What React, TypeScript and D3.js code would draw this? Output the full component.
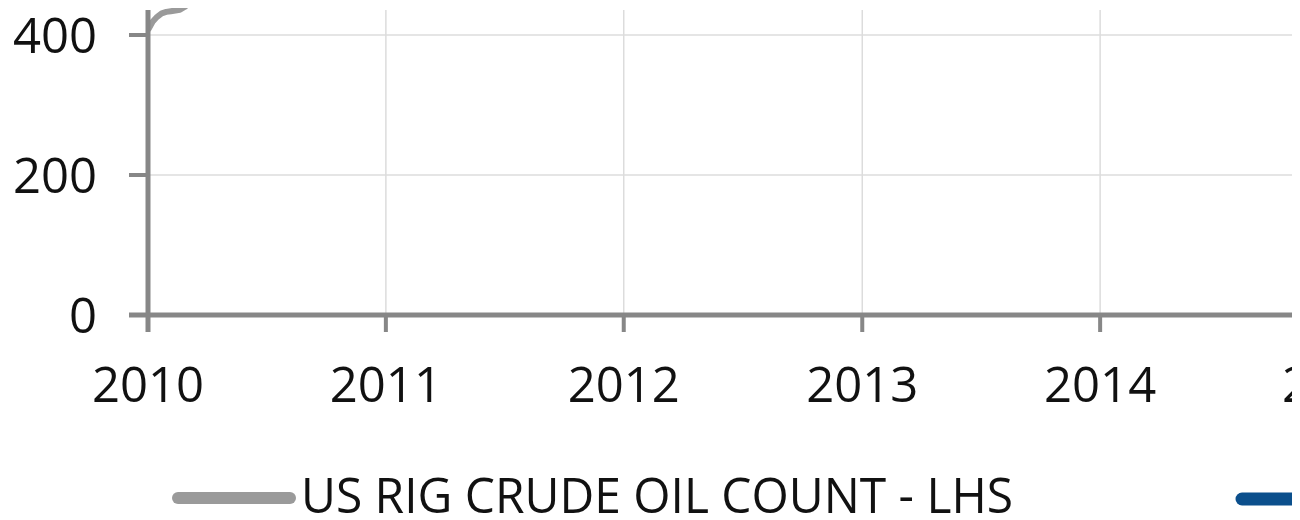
import React from "react";
import * as d3 from "d3";

const yearTicks = [2010, 2011, 2012, 2013, 2014, 2015];
const yTicks = [0, 200, 400];
const rigDates = [
  "2010-01-01", "2010-01-08", "2010-01-15", "2010-01-22", "2010-01-29",
  "2010-02-05", "2010-02-12", "2010-02-19", "2010-02-26", "2010-03-05",
  "2010-04-02", "2010-06-04", "2010-09-03", "2010-12-31",
];
const rigCounts = [407, 419, 426, 431, 433, 434, 435, 436, 440, 445, 470, 550, 640, 720];
const legendLabels = ["US RIG CRUDE OIL COUNT - LHS", "WTI - RHS"];

const W = 1300;
const H = 520;
const CLIP_RIGHT = 1292;
const AXIS = "#878787";
const GRID = "#dcdcdc";
const SERIES_GREY = "#9a9a9a";
const SERIES_BLUE = "#0b4f8c";
const FONT = "'Open Sans', 'Liberation Sans', sans-serif";

export default function App() {
  const x = d3
    .scaleTime()
    .domain([new Date(2010, 0, 1), new Date(2015, 0, 1)])
    .range([148, 1338]);
  const y = d3.scaleLinear().domain([0, 400]).range([315, 35]);
  const plotTop = 10;

  const pts = rigDates.map((d, i) => ({ date: d3.timeParse("%Y-%m-%d")(d) as Date, v: rigCounts[i] }));
  const line = d3
    .line<{ date: Date; v: number }>()
    .x((d) => x(d.date))
    .y((d) => y(d.v));

  return (
    <svg
      width={W}
      height={H}
      style={{ position: "absolute", left: 0, top: 0, background: "#fff" }}
      fontFamily={FONT}
    >
      <defs>
        <clipPath id="all">
          <rect x={0} y={0} width={CLIP_RIGHT} height={H} />
        </clipPath>
        <clipPath id="plot">
          <rect x={148} y={plotTop - 2} width={CLIP_RIGHT - 148} height={315 - plotTop + 2} />
        </clipPath>
      </defs>
      <g clipPath="url(#all)">
        {/* vertical gridlines */}
        {yearTicks.slice(1).map((yr) => (
          <line
            key={"vg" + yr}
            x1={x(new Date(yr, 0, 1))}
            x2={x(new Date(yr, 0, 1))}
            y1={plotTop}
            y2={315}
            stroke={GRID}
            strokeWidth={1.5}
          />
        ))}
        {/* horizontal gridlines */}
        {yTicks.slice(1).map((t) => (
          <line key={"hg" + t} x1={148} x2={CLIP_RIGHT} y1={y(t)} y2={y(t)} stroke={GRID} strokeWidth={1.5} />
        ))}
        {/* series */}
        <g clipPath="url(#plot)">
          <path d={line(pts) || ""} fill="none" stroke={SERIES_GREY} strokeWidth={6} strokeLinejoin="round" />
        </g>
        {/* x axis */}
        <line x1={129} x2={CLIP_RIGHT} y1={y(0)} y2={y(0)} stroke={AXIS} strokeWidth={5} />
        {yearTicks.map((yr) => (
          <line
            key={"xt" + yr}
            x1={x(new Date(yr, 0, 1))}
            x2={x(new Date(yr, 0, 1))}
            y1={y(0)}
            y2={332}
            stroke={AXIS}
            strokeWidth={4}
          />
        ))}
        {/* y axis */}
        <line x1={148} x2={148} y1={plotTop} y2={332} stroke={AXIS} strokeWidth={5} />
        {yTicks.map((t) => (
          <line key={"yt" + t} x1={129} x2={148} y1={y(t)} y2={y(t)} stroke={AXIS} strokeWidth={4} />
        ))}
        {/* y labels */}
        {yTicks.map((t) => (
          <text
            key={"yl" + t}
            x={97}
            y={y(t)}
            dy="0.36em"
            textAnchor="end"
            fontSize={49}
            fill="#111"
          >
            {t}
          </text>
        ))}
        {/* x labels */}
        {yearTicks.map((yr) => (
          <text
            key={"xl" + yr}
            x={x(new Date(yr, 0, 1))}
            y={402}
            textAnchor="middle"
            fontSize={49}
            fill="#111"
          >
            {yr}
          </text>
        ))}
        {/* legend */}
        <line x1={178} x2={290} y1={498} y2={498} stroke={SERIES_GREY} strokeWidth={12} strokeLinecap="round" />
        <text x={301} y={513} fontSize={50} fill="#111" textLength={712} lengthAdjust="spacingAndGlyphs">
          {legendLabels[0]}
        </text>
        <line x1={1242} x2={1360} y1={499} y2={499} stroke={SERIES_BLUE} strokeWidth={13} strokeLinecap="round" />
      </g>
    </svg>
  );
}
